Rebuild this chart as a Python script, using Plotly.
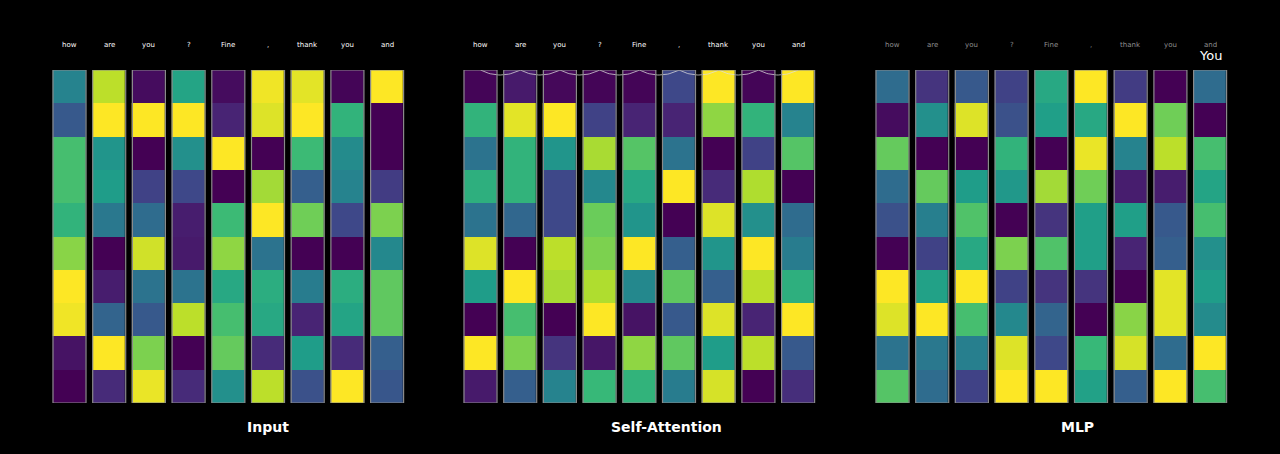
import numpy as np
import plotly.graph_objects as go

tokens = ["how", "are", "you", "?", "Fine", ",", "thank", "you", "and"]
panel_titles = ["Input", "Self-Attention", "MLP"]
next_token = "You"

# values per column (top row -> bottom row), viridis scale 0..1
input_cols = [
    [0.45, 0.28, 0.70, 0.70, 0.65, 0.82, 1.00, 0.98, 0.05, 0.00],
    [0.90, 1.00, 0.52, 0.55, 0.40, 0.00, 0.08, 0.32, 1.00, 0.12],
    [0.03, 1.00, 0.00, 0.20, 0.35, 0.93, 0.38, 0.28, 0.80, 0.97],
    [0.58, 1.00, 0.50, 0.22, 0.08, 0.07, 0.38, 0.90, 0.00, 0.12],
    [0.03, 0.10, 1.00, 0.00, 0.68, 0.83, 0.60, 0.70, 0.76, 0.50],
    [0.98, 0.95, 0.00, 0.86, 1.00, 0.38, 0.62, 0.60, 0.12, 0.90],
    [0.96, 1.00, 0.68, 0.30, 0.78, 0.00, 0.42, 0.10, 0.55, 0.25],
    [0.01, 0.65, 0.48, 0.45, 0.22, 0.00, 0.62, 0.58, 0.12, 1.00],
    [1.00, 0.00, 0.00, 0.18, 0.80, 0.47, 0.75, 0.75, 0.30, 0.27],
]
attn_cols = [
    [0.01, 0.65, 0.38, 0.63, 0.38, 0.95, 0.55, 0.00, 1.00, 0.07],
    [0.07, 0.96, 0.65, 0.65, 0.33, 0.00, 1.00, 0.70, 0.80, 0.30],
    [0.02, 1.00, 0.52, 0.22, 0.22, 0.90, 0.87, 0.00, 0.15, 0.45],
    [0.01, 0.20, 0.87, 0.47, 0.77, 0.80, 0.88, 1.00, 0.06, 0.67],
    [0.01, 0.10, 0.73, 0.60, 0.52, 1.00, 0.47, 0.05, 0.83, 0.65],
    [0.22, 0.10, 0.38, 1.00, 0.00, 0.30, 0.75, 0.28, 0.75, 0.42],
    [1.00, 0.83, 0.00, 0.12, 0.95, 0.52, 0.30, 0.95, 0.55, 0.94],
    [0.01, 0.65, 0.20, 0.88, 0.50, 1.00, 0.90, 0.10, 0.90, 0.00],
    [1.00, 0.45, 0.73, 0.00, 0.35, 0.42, 0.63, 1.00, 0.28, 0.13],
]
mlp_cols = [
    [0.35, 0.03, 0.76, 0.35, 0.25, 0.00, 1.00, 0.95, 0.38, 0.73],
    [0.15, 0.50, 0.00, 0.76, 0.43, 0.20, 0.57, 1.00, 0.40, 0.35],
    [0.28, 0.95, 0.00, 0.55, 0.72, 0.60, 1.00, 0.70, 0.43, 0.20],
    [0.20, 0.25, 0.65, 0.53, 0.00, 0.80, 0.20, 0.47, 0.95, 1.00],
    [0.60, 0.56, 0.00, 0.86, 0.15, 0.72, 0.15, 0.32, 0.22, 1.00],
    [1.00, 0.60, 0.97, 0.78, 0.56, 0.56, 0.15, 0.00, 0.67, 0.57],
    [0.18, 1.00, 0.45, 0.08, 0.56, 0.10, 0.00, 0.82, 0.94, 0.30],
    [0.00, 0.78, 0.90, 0.08, 0.28, 0.30, 0.96, 0.96, 0.35, 1.00],
    [0.35, 0.00, 0.70, 0.58, 0.70, 0.50, 0.55, 0.48, 1.00, 0.70],
]

W, H = 1280, 454
pitch = 39.7
cell_w = 33.0
left_px = [49.65, 460.65, 872.65]
top_px, bot_px = 70.0, 403.0
title_x_px = [268, 666, 1077]
label_colors = ["#ffffff", "#ffffff", "#8f8f8f"]
n_rows = 10
n_cols = len(tokens)

fig = go.Figure()
panels = [input_cols, attn_cols, mlp_cols]
half = cell_w / pitch / 2

for p, cols in enumerate(panels):
    z = np.array(cols).T
    ax = "" if p == 0 else str(p + 1)
    fig.add_trace(go.Heatmap(
        z=z, x=list(range(n_cols)), y=list(range(n_rows)),
        colorscale="Viridis", zmin=0, zmax=1, showscale=False,
        xgap=pitch - cell_w, ygap=0, xaxis="x" + ax, yaxis="y" + ax,
        hoverinfo="skip"))
    x0 = left_px[p] / W
    x1 = (left_px[p] + pitch * n_cols) / W
    fig.update_layout(**{
        "xaxis" + ax: dict(domain=[x0, x1], range=[-0.5, n_cols - 0.5],
                           visible=False, fixedrange=True),
        "yaxis" + ax: dict(domain=[1 - bot_px / H, 1 - top_px / H],
                           range=[n_rows - 0.5, -0.5], visible=False,
                           fixedrange=True),
    })
    for i in range(n_cols):
        fig.add_shape(type="rect", xref="x" + ax, yref="y" + ax,
                      x0=i - half, x1=i + half, y0=-0.5, y1=n_rows - 0.5,
                      line=dict(color="#8a8a8a", width=1.2))
        fig.add_annotation(x=i, y=1 - 45 / H, xref="x" + ax, yref="paper",
                           xanchor="center", yanchor="middle",
                           text=tokens[i], showarrow=False,
                           font=dict(size=7, color=label_colors[p],
                                     family="DejaVu Sans"))
    fig.add_annotation(x=title_x_px[p] / W, y=1 - 427 / H, xref="paper",
                       yref="paper", xanchor="center", yanchor="middle",
                       text="<b>" + panel_titles[p] + "</b>",
                       showarrow=False,
                       font=dict(size=14, color="#ffffff", family="DejaVu Sans"))

# scalloped attention arcs along the top of the Self-Attention panel
sag_px = 5.0
c = pitch
R = (c * c / 4 + sag_px * sag_px) / (2 * sag_px)
ax_, ay_ = [], []
row_px = (bot_px - top_px) / n_rows
for i in range(n_cols - 1):
    for t in np.linspace(0, 1, 25):
        xp = t * c
        depth = np.sqrt(max(R * R - (xp - c / 2) ** 2, 0)) - (R - sag_px)
        ax_.append(i + t)
        ay_.append(-0.5 + depth / row_px)
fig.add_trace(go.Scatter(x=ax_, y=ay_, mode="lines", xaxis="x2", yaxis="y2",
                         line=dict(color="rgba(220,220,220,0.75)", width=1),
                         hoverinfo="skip", showlegend=False))

# predicted next token above the last MLP column
fig.add_annotation(x=n_cols - 1, y=1 - 56 / H, xref="x3", yref="paper",
                   xanchor="center", yanchor="middle",
                   text=next_token, showarrow=False,
                   font=dict(size=13, color="#ffffff", family="DejaVu Sans"))

fig.update_layout(width=W, height=H, margin=dict(l=0, r=0, t=0, b=0),
                  paper_bgcolor="#000000", plot_bgcolor="#000000",
                  showlegend=False)
fig.write_html("out.html", config={"displayModeBar": False},
               post_script="document.body.style.margin='0';"
                           "document.body.style.background='#000';"
                           "document.body.style.overflow='hidden';")
